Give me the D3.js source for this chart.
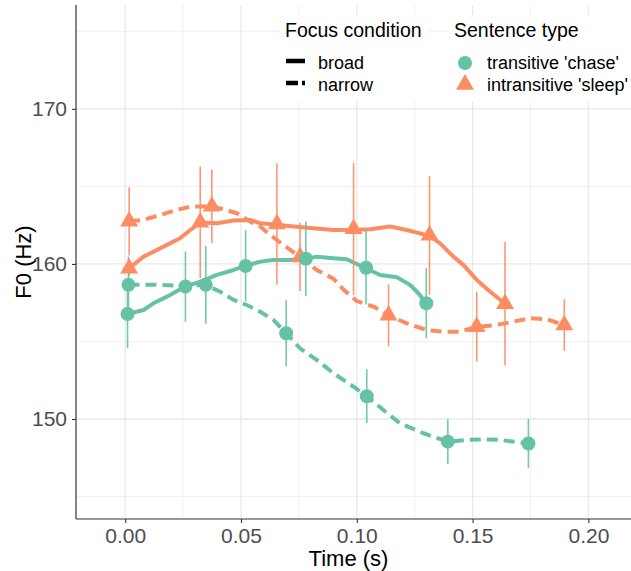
<!DOCTYPE html>
<html>
<head>
<meta charset="utf-8">
<script src="https://cdn.jsdelivr.net/npm/d3@7"></script>
<style>
  body { margin: 0; background: #fff; }
  svg { display: block; }
  text { font-family: "Liberation Sans", Arial, Helvetica, sans-serif; }
</style>
</head>
<body>
<svg id="chart" width="631" height="571"></svg>
<script>
// ---- F0 contours (time in s, F0 in Hz) ----
const chaseBroadContour = [
  [0.0010,156.77],[0.0079,157.03],[0.0122,157.46],[0.0180,157.89],[0.0259,158.54],
  [0.0324,158.86],[0.0396,159.29],[0.0468,159.61],[0.0518,159.87],[0.0583,160.15],
  [0.0640,160.26],[0.0698,160.26],[0.0777,160.30],[0.0827,160.47],[0.0899,160.37],
  [0.0957,160.30],[0.1039,159.72],[0.1101,159.29],[0.1173,159.14],[0.1230,158.65],
  [0.1266,158.11],[0.1299,157.46]
];
const chaseNarrowContour = [
  [0.0014,158.65],[0.0137,158.65],[0.0259,158.58],[0.0348,158.65],[0.0410,158.21],
  [0.0468,157.68],[0.0525,157.35],[0.0583,156.92],[0.0640,156.39],[0.0695,155.53],
  [0.0755,154.56],[0.0827,153.81],[0.0899,152.95],[0.0986,152.08],[0.1043,151.47],
  [0.1115,150.58],[0.1187,149.72],[0.1288,149.08],[0.1393,148.54],[0.1475,148.65],
  [0.1547,148.69],[0.1619,148.65],[0.1741,148.42]
];
const sleepBroadContour = [
  [0.0017,159.72],[0.0079,160.47],[0.0122,160.79],[0.0180,161.23],[0.0237,161.66],
  [0.0281,162.19],[0.0324,162.67],[0.0396,162.62],[0.0468,162.80],[0.0540,162.84],
  [0.0583,162.62],[0.0655,162.52],[0.0727,162.41],[0.0813,162.30],[0.0899,162.19],
  [0.0986,162.20],[0.1058,162.24],[0.1144,162.41],[0.1216,162.19],[0.1314,161.81],
  [0.1360,161.33],[0.1417,160.47],[0.1460,159.94],[0.1518,158.97],[0.1576,158.21],
  [0.1640,157.43]
];
const sleepNarrowContour = [
  [0.0017,162.75],[0.0079,162.84],[0.0151,163.16],[0.0223,163.48],[0.0281,163.70],
  [0.0324,163.70],[0.0374,163.72],[0.0424,163.53],[0.0482,163.27],[0.0540,162.73],
  [0.0583,162.41],[0.0626,161.87],[0.0683,161.23],[0.0755,160.45],[0.0827,159.61],
  [0.0899,159.05],[0.0942,158.35],[0.1000,157.60],[0.1072,157.25],[0.1137,156.68],
  [0.1216,156.17],[0.1302,155.74],[0.1374,155.63],[0.1446,155.63],[0.1518,155.95],
  [0.1604,156.06],[0.1676,156.28],[0.1748,156.50],[0.1820,156.43],[0.1896,156.06]
];

// ---- Interval means with error bars (± Hz) ----
const chaseBroadTimes  = [0.0010, 0.0260, 0.0520, 0.0780, 0.1040, 0.1300];
const chaseBroadMeans  = [156.77, 158.54, 159.87, 160.33, 159.75, 157.46];
const chaseBroadErr    = [2.20, 2.26, 2.30, 2.40, 2.37, 2.26];

const chaseNarrowTimes = [0.0014, 0.0348, 0.0695, 0.1043, 0.1393, 0.1741];
const chaseNarrowMeans = [158.65, 158.65, 155.53, 151.47, 148.54, 148.42];
const chaseNarrowErr   = [1.83, 2.50, 2.13, 1.74, 1.44, 1.58];

const sleepBroadTimes  = [0.0017, 0.0324, 0.0655, 0.0986, 0.1314, 0.1640];
const sleepBroadMeans  = [159.72, 162.68, 162.58, 162.26, 161.84, 157.43];
const sleepBroadErr    = [0.50, 3.60, 3.90, 4.26, 3.84, 3.98];

const sleepNarrowTimes = [0.0017, 0.0374, 0.0755, 0.1137, 0.1518, 0.1896];
const sleepNarrowMeans = [162.75, 163.72, 160.45, 156.68, 155.95, 156.06];
const sleepNarrowErr   = [2.20, 2.37, 2.20, 2.00, 2.25, 1.66];

// ---- Axis ticks and legend labels ----
const xTicks = [0, 0.05, 0.10, 0.15, 0.20];
const xMinor = [0.025, 0.075, 0.125, 0.175];
const yTicks = [150, 160, 170];
const yMinor = [145, 155, 165, 175];
const focusLabels = ["broad", "narrow"];
const sentenceLabels = ["transitive 'chase'", "intransitive 'sleep'"];

const GREEN = "#66C2A5", ORANGE = "#FC8D62";

const panel = { left: 76, right: 631, top: 5, bottom: 519 };
const svg = d3.select("#chart");

const x = d3.scaleLinear().domain([-0.02125, 0.2184]).range([panel.left, panel.right]);
const y = d3.scaleLinear().domain([143.55, 176.7]).range([panel.bottom, panel.top]);

// grid
const grid = svg.append("g");
grid.selectAll(".xminor").data(xMinor).join("line")
  .attr("x1", d => x(d)).attr("x2", d => x(d))
  .attr("y1", panel.top).attr("y2", panel.bottom)
  .attr("stroke", "#f0f0f0").attr("stroke-width", 1);
grid.selectAll(".yminor").data(yMinor).join("line")
  .attr("y1", d => y(d)).attr("y2", d => y(d))
  .attr("x1", panel.left).attr("x2", panel.right)
  .attr("stroke", "#f0f0f0").attr("stroke-width", 1);
grid.selectAll(".xmajor").data(xTicks).join("line")
  .attr("x1", d => x(d)).attr("x2", d => x(d))
  .attr("y1", panel.top).attr("y2", panel.bottom)
  .attr("stroke", "#e8e8e8").attr("stroke-width", 1.3);
grid.selectAll(".ymajor").data(yTicks).join("line")
  .attr("y1", d => y(d)).attr("y2", d => y(d))
  .attr("x1", panel.left).attr("x2", panel.right)
  .attr("stroke", "#e8e8e8").attr("stroke-width", 1.3);

const series = [
  { contour: sleepBroadContour,  times: sleepBroadTimes,  means: sleepBroadMeans,  err: sleepBroadErr,  color: ORANGE, dashed: false, shape: d3.symbolTriangle },
  { contour: sleepNarrowContour, times: sleepNarrowTimes, means: sleepNarrowMeans, err: sleepNarrowErr, color: ORANGE, dashed: true,  shape: d3.symbolTriangle },
  { contour: chaseBroadContour,  times: chaseBroadTimes,  means: chaseBroadMeans,  err: chaseBroadErr,  color: GREEN,  dashed: false, shape: d3.symbolCircle },
  { contour: chaseNarrowContour, times: chaseNarrowTimes, means: chaseNarrowMeans, err: chaseNarrowErr, color: GREEN,  dashed: true,  shape: d3.symbolCircle }
];

const line = d3.line().x(d => x(d[0])).y(d => y(d[1]));

// contour lines
svg.append("g").selectAll("path").data(series).join("path")
  .attr("d", s => line(s.contour))
  .attr("fill", "none")
  .attr("stroke", s => s.color)
  .attr("stroke-width", 4)
  .attr("stroke-linejoin", "round")
  .attr("stroke-dasharray", s => s.dashed ? "11,6" : null);

// error bars
const bars = svg.append("g");
series.forEach(s => {
  bars.selectAll(null).data(s.times.map((t, i) => [t, s.means[i], s.err[i]])).join("line")
    .attr("x1", d => x(d[0])).attr("x2", d => x(d[0]))
    .attr("y1", d => y(d[1] - d[2])).attr("y2", d => y(d[1] + d[2]))
    .attr("stroke", s.color).attr("stroke-width", 1.6).attr("opacity", 0.9);
});

// markers
const marks = svg.append("g");
series.forEach(s => {
  const size = s.shape === d3.symbolCircle ? 154 : 140;
  marks.selectAll(null).data(s.times.map((t, i) => [t, s.means[i]])).join("path")
    .attr("transform", d => `translate(${x(d[0])},${y(d[1])})`)
    .attr("d", d3.symbol(s.shape, size))
    .attr("fill", s.color);
});

// axes
const xAxis = svg.append("g").attr("transform", `translate(0,${panel.bottom})`)
  .call(d3.axisBottom(x).tickValues(xTicks).tickFormat(d3.format(".2f")).tickSize(4).tickPadding(5));
const yAxis = svg.append("g").attr("transform", `translate(${panel.left},0)`)
  .call(d3.axisLeft(y).tickValues(yTicks).tickSize(4).tickPadding(5));
[xAxis, yAxis].forEach(a => {
  a.select(".domain").attr("stroke", "#333").attr("stroke-width", 1.2);
  a.selectAll(".tick line").attr("stroke", "#333").attr("stroke-width", 1.1);
  a.selectAll(".tick text").attr("fill", "#4d4d4d").attr("font-size", 21)
    .attr("font-family", "Liberation Sans, Arial, sans-serif");
});
xAxis.select(".domain").attr("d", `M${panel.left},0H${panel.right}`);
yAxis.select(".domain").attr("d", `M0,${panel.bottom}V${panel.top}`);

svg.append("text").attr("x", (panel.left + 631) / 2 - 5).attr("y", 566)
  .attr("text-anchor", "middle").attr("font-size", 22).attr("fill", "#000").text("Time (s)");
svg.append("text").attr("transform", `translate(31,${(panel.top + panel.bottom) / 2}) rotate(-90)`)
  .attr("text-anchor", "middle").attr("font-size", 22).attr("fill", "#000").text("F0 (Hz)");

// legends
const lg1 = svg.append("g");
lg1.append("rect").attr("x", 280).attr("y", 15).attr("width", 149).attr("height", 86).attr("fill", "#fff");
lg1.append("text").attr("x", 285).attr("y", 37).attr("font-size", 19.5).text("Focus condition");
[false, true].forEach((dashed, i) => {
  const cy = 61 + i * 22;
  lg1.append("line").attr("x1", 286).attr("x2", 305).attr("y1", cy).attr("y2", cy)
    .attr("stroke", "#000").attr("stroke-width", 4.5)
    .attr("stroke-dasharray", dashed ? "12,4" : null);
  lg1.append("text").attr("x", 318).attr("y", cy + 7.5).attr("font-size", 18).text(focusLabels[i]);
});

const lg2 = svg.append("g");
lg2.append("rect").attr("x", 449).attr("y", 15).attr("width", 190).attr("height", 86).attr("fill", "#fff");
lg2.append("text").attr("x", 454).attr("y", 37).attr("font-size", 19.5).text("Sentence type");
[[d3.symbolCircle, GREEN, 154, 63], [d3.symbolTriangle, ORANGE, 140, 84.5]].forEach((k, i) => {
  lg2.append("path").attr("transform", `translate(465,${k[3]})`)
    .attr("d", d3.symbol(k[0], k[2])).attr("fill", k[1]);
  lg2.append("text").attr("x", 487).attr("y", 68.5 + i * 22).attr("font-size", 18).text(sentenceLabels[i]);
});
</script>
</body>
</html>
